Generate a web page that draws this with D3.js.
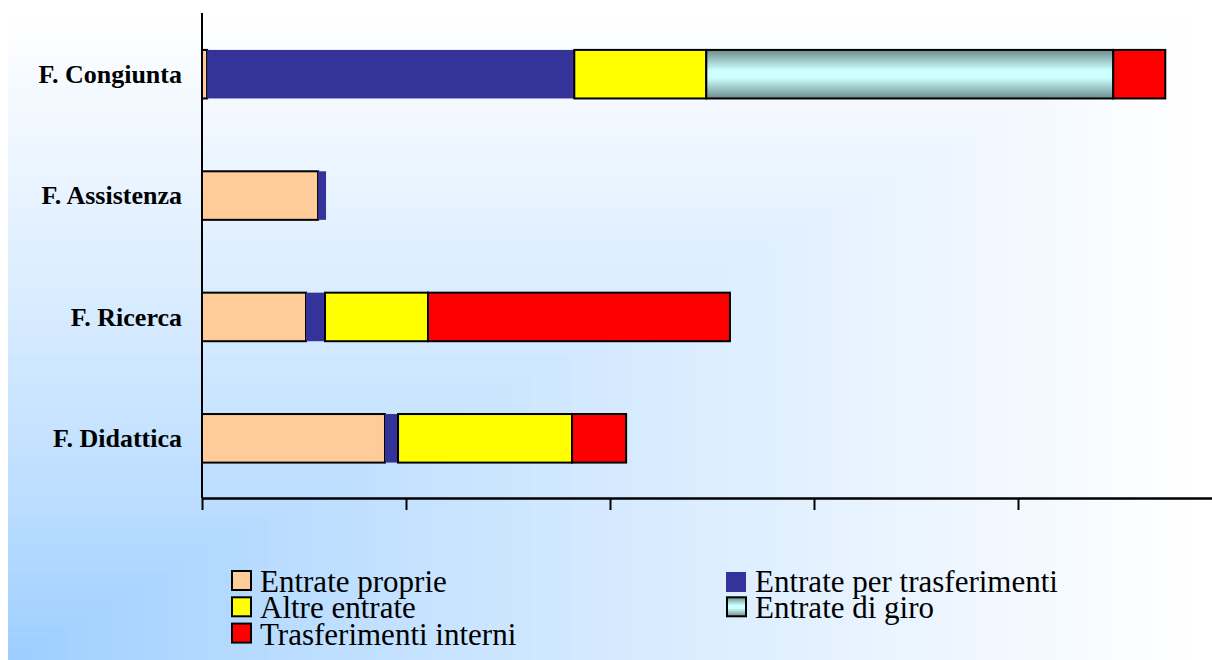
<!DOCTYPE html>
<html>
<head>
<meta charset="utf-8">
<script src="https://d3js.org/d3.v7.min.js"></script>
<style>
  body { margin: 0; background: white; }
  svg { display: block; }
  text { font-family: "Liberation Serif", "DejaVu Serif", serif; }
</style>
</head>
<body>
<svg width="1212" height="660" id="MainSVG"></svg>
<script>
// categories, top to bottom
var categories = ["F. Congiunta", "F. Assistenza", "F. Ricerca", "F. Didattica"];

// series names (stack order, left to right)
var seriesNames = ["Entrate proprie", "Entrate per trasferimenti", "Altre entrate",
                   "Entrate di giro", "Trasferimenti interni"];

// values per category, same order as categories (in thousands)
var entrateProprie        = [25, 569, 510, 897];
var entratePerTrasferim   = [1800, 39, 93, 64];
var altreEntrate          = [647, 0, 505, 853];
var entrateDiGiro         = [1995, 0, 0, 0];
var trasferimentiInterni  = [255, 0, 1480, 265];

// x axis ticks (no labels shown)
var xTicks = [0, 1000, 2000, 3000, 4000];

var seriesValues = [entrateProprie, entratePerTrasferim, altreEntrate, entrateDiGiro, trasferimentiInterni];
var fills = ["#ffcc99", "#333399", "#ffff00", "url(#giro)", "#ff0000"];
var strokes = ["black", "none", "black", "black", "black"];

var table = categories.map(function(c, i) {
  var row = {cat: c};
  seriesNames.forEach(function(s, k) { row[s] = seriesValues[k][i]; });
  return row;
});

var svg = d3.select("#MainSVG");
var W = 1212, H = 660;
var defs = svg.append("defs");

// gradient used for "Entrate di giro"
var g1 = defs.append("linearGradient").attr("id", "giro")
  .attr("x1", 0).attr("y1", 0).attr("x2", 0).attr("y2", 1);
g1.append("stop").attr("offset", "0%").attr("stop-color", "#6d8c8c");
g1.append("stop").attr("offset", "42%").attr("stop-color", "#ccffff");
g1.append("stop").attr("offset", "58%").attr("stop-color", "#ccffff");
g1.append("stop").attr("offset", "100%").attr("stop-color", "#6d8c8c");

// background: rectangular gradient from the bottom-left corner
var bgX0 = 8, bgY0 = 4;
var bgCol = d3.interpolateRgb("#99ccff", "#ffffff");
var steps = d3.range(60, 0, -1);
svg.append("g").selectAll("rect").data(steps).enter().append("rect")
  .attr("x", bgX0)
  .attr("y", function(t) { return H - (H - bgY0) * t / 60; })
  .attr("width", function(t) { return (W - bgX0) * t / 60; })
  .attr("height", function(t) { return (H - bgY0) * t / 60; })
  .attr("fill", function(t) { return bgCol(Math.pow(t / 60, 0.8)); })
  .attr("stroke", "none");

// scales
var x = d3.scaleLinear().domain([0, 5000]).range([202, 1222]);
var y = d3.scaleBand().domain(categories).range([13.5, 499]).paddingInner(0.6).paddingOuter(0.3);

var stack = d3.stack().keys(seriesNames);
var layers = stack(table);

var bars = svg.append("g");
layers.forEach(function(layer, k) {
  bars.append("g")
    .selectAll("rect")
    .data(layer.filter(function(d) { return d[1] - d[0] > 0; }))
    .enter().append("rect")
    .attr("x", function(d) { return x(d[0]); })
    .attr("y", function(d) { return y(d.data.cat); })
    .attr("width", function(d) { return x(d[1]) - x(d[0]); })
    .attr("height", y.bandwidth())
    .attr("fill", fills[k])
    .attr("stroke", strokes[k])
    .attr("stroke-width", 2);
});

// axes
var yAxis = svg.append("g").attr("transform", "translate(202,0)")
  .call(d3.axisLeft(y).tickSize(0).tickFormat(""));
yAxis.select(".domain").attr("stroke-width", 2).attr("d", "M0,13V498");

var xAxis = svg.append("g").attr("transform", "translate(0,498)")
  .call(d3.axisBottom(x).tickValues(xTicks).tickSize(12).tickSizeOuter(0).tickFormat(""));
xAxis.select(".domain").attr("stroke-width", 2.5);
xAxis.selectAll(".tick line").attr("stroke-width", 2);

// category labels
svg.append("g").selectAll("text").data(categories).enter().append("text")
  .attr("x", 182)
  .attr("y", function(d) { return y(d) + y.bandwidth() / 2; })
  .attr("dy", "0.34em")
  .attr("text-anchor", "end")
  .style("font-weight", "bold")
  .style("font-size", "26px")
  .text(function(d) { return d; });

// legend
var legend = svg.append("g").selectAll("g").data(seriesNames).enter().append("g")
  .attr("transform", function(d, i) {
    var col = i % 2, row = Math.floor(i / 2);
    return "translate(" + (col === 0 ? 232 : 727) + "," + (571 + row * 26.3) + ")";
  });
legend.append("rect")
  .attr("width", function(d, i) { return i === 1 ? 20 : 19; })
  .attr("height", function(d, i) { return i === 1 ? 20 : 19; })
  .attr("y", function(d, i) { return i === 1 ? 1 : 0; })
  .attr("x", function(d, i) { return i === 1 ? -1 : 0; })
  .attr("fill", function(d, i) { return fills[i]; })
  .attr("stroke", function(d, i) { return strokes[i]; })
  .attr("stroke-width", 2);
legend.append("text")
  .attr("x", 28)
  .attr("y", 21)
  .style("font-size", "31px")
  .text(function(d) { return d; });
</script>
</body>
</html>
